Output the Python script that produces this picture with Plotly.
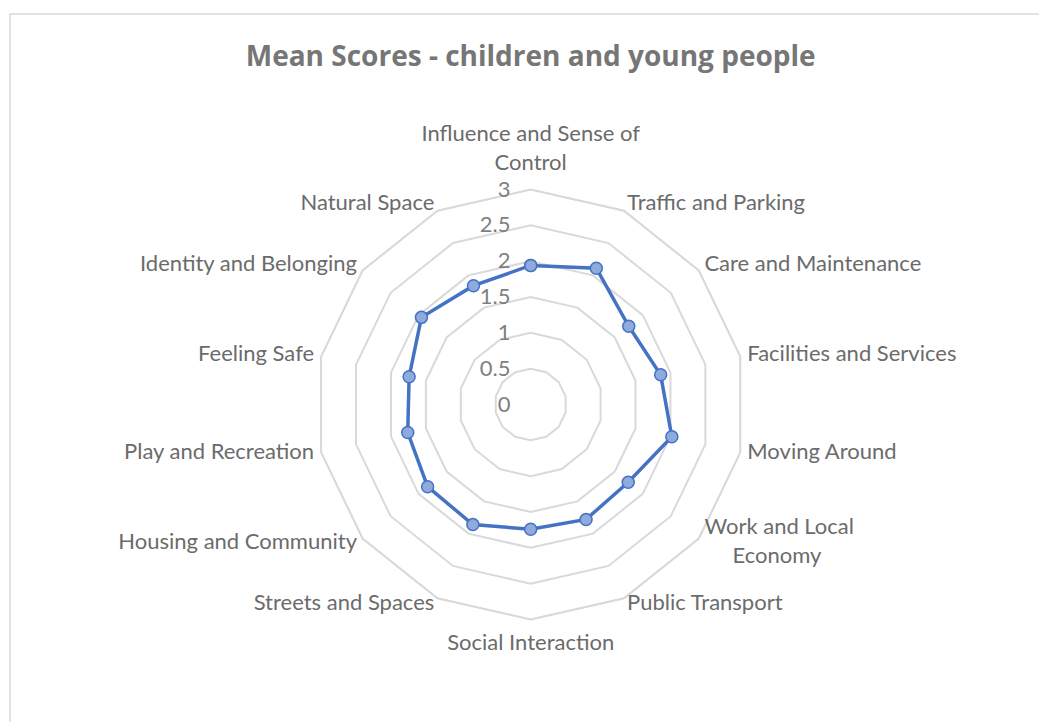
import plotly.graph_objects as go

categories = ["Influence and Sense of Control", "Traffic and Parking", "Care and Maintenance",
              "Facilities and Services", "Moving Around", "Work and Local Economy",
              "Public Transport", "Social Interaction", "Streets and Spaces",
              "Housing and Community", "Play and Recreation", "Feeling Safe",
              "Identity and Belonging", "Natural Space"]
label_text = ["Influence and Sense of<br>Control", "Traffic and Parking", "Care and Maintenance",
              "Facilities and Services", "Moving Around",
              "Work and Local<br>\u00a0\u00a0\u00a0\u00a0\u00a0Economy",
              "Public Transport", "Social Interaction", "Streets and Spaces",
              "Housing and Community", "Play and Recreation", "Feeling Safe",
              "Identity and Belonging", "Natural Space"]
scores = [1.94, 2.11, 1.75, 1.86, 2.02, 1.74, 1.78, 1.74, 1.86, 1.84, 1.76, 1.74, 1.95, 1.84]
radial_ticks = [0, 0.5, 1, 1.5, 2, 2.5, 3]

W, H = 1039, 722
cx, cy = 530.7, 404.5
r_max = 3.2                     # room for the category labels outside the 3 ring
R = 215 * r_max / 3

n = len(categories)
positions, label_r = [], []
for i in range(n):
    a = i * 360 / n
    if a == 0:
        positions.append('top center')
        label_r.append(3.2)
    elif a == 180:
        positions.append('bottom center')
        label_r.append(3.2)
    elif a < 180:
        positions.append('middle right')
        label_r.append(3.1)
    else:
        positions.append('middle left')
        label_r.append(3.1)

fig = go.Figure()
# outer ring drawn as a closed line at 3
fig.add_trace(go.Scatterpolar(
    r=[3] * (n + 1), theta=categories + categories[:1], mode='lines',
    line=dict(color='#D9D9D9', width=1.5), hoverinfo='skip', showlegend=False))
fig.add_trace(go.Scatterpolar(
    r=scores + scores[:1], theta=categories + categories[:1],
    mode='lines+markers',
    line=dict(color='#4472C4', width=3.5),
    marker=dict(size=12, color='#8FAADC', line=dict(color='#4472C4', width=1.5)),
    showlegend=False))
# category labels placed like Excel does
fig.add_trace(go.Scatterpolar(
    r=label_r, theta=categories, mode='text', text=label_text,
    textposition=positions, textfont=dict(family='Lato', size=22, color='#6B6B6B'),
    cliponaxis=False, hoverinfo='skip', showlegend=False))

fig.update_layout(
    width=W, height=H, margin=dict(l=0, r=0, t=0, b=0),
    paper_bgcolor='white', plot_bgcolor='white',
    font=dict(family='Lato, Open Sans, sans-serif', size=22, color='#6B6B6B'),
    title=dict(text='<b>Mean Scores - children and young people</b>', x=cx / W, xanchor='center',
               y=1 - 56 / H, yanchor='middle',
               font=dict(family='Open Sans, sans-serif', size=28, color='#767676')),
    polar=dict(
        domain=dict(x=[(cx - R) / W, (cx + R) / W], y=[1 - (cy + R) / H, 1 - (cy - R) / H]),
        bgcolor='rgba(0,0,0,0)',
        gridshape='linear',
        radialaxis=dict(range=[0, r_max], tickvals=radial_ticks, ticktext=[str(v) for v in radial_ticks],
                        angle=90, tickangle=90, side='counterclockwise', showline=False,
                        gridcolor='#D9D9D9', gridwidth=1.5,
                        ticks='outside', ticklen=12, tickcolor='rgba(0,0,0,0)',
                        tickfont=dict(family='Lato', size=22, color='#7F7F7F')),
        angularaxis=dict(direction='clockwise', rotation=90, showgrid=False,
                         showline=False, showticklabels=False, ticks=''),
    ),
    shapes=[dict(type='rect', xref='paper', yref='paper', x0=10 / W, y0=-0.02, x1=1.02, y1=1 - 14 / H,
                 line=dict(color='#D9D9D9', width=1.5), fillcolor='rgba(0,0,0,0)')],
)

fig.write_html("out.html", config={'displayModeBar': False},
               post_script="document.body.style.margin='0';")
